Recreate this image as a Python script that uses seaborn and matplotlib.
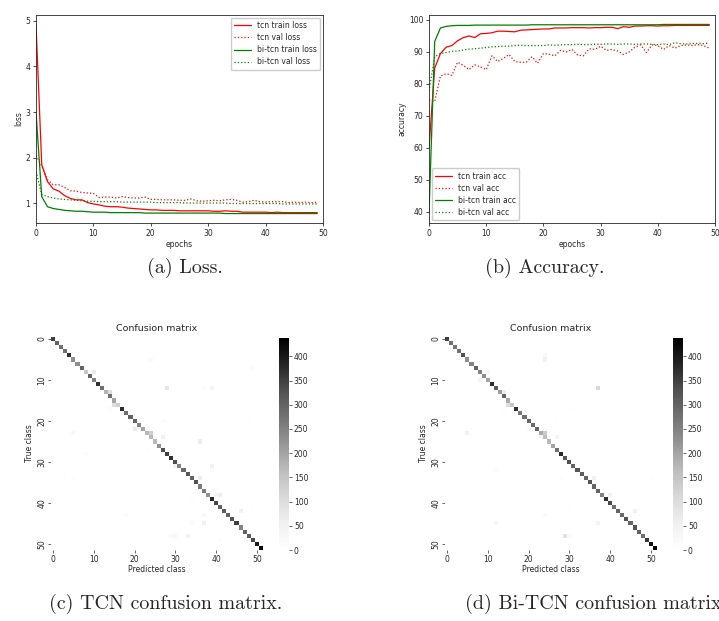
import numpy as np
import pandas as pd
import matplotlib
matplotlib.use("Agg")
import matplotlib.pyplot as plt
import seaborn as sns

sns.set_style("ticks")
plt.rcParams["font.family"] = ["DejaVu Sans"]

# ---------------- training curves ----------------
epochs = list(range(50))

tcn_train_loss = [4.92, 1.85, 1.48, 1.32, 1.27, 1.17, 1.11, 1.08, 1.08, 1.02,
                  0.99, 0.97, 0.94, 0.93, 0.93, 0.92, 0.90, 0.89, 0.88, 0.87,
                  0.86, 0.86, 0.85, 0.85, 0.85, 0.84, 0.84, 0.84, 0.84, 0.84,
                  0.84, 0.83, 0.83, 0.84, 0.83, 0.83, 0.81, 0.81, 0.81, 0.81,
                  0.81, 0.80, 0.81, 0.80, 0.80, 0.80, 0.80, 0.80, 0.80, 0.80]
tcn_val_loss = [2.05, 1.82, 1.52, 1.41, 1.41, 1.35, 1.28, 1.27, 1.24, 1.23,
                1.22, 1.13, 1.14, 1.14, 1.12, 1.15, 1.13, 1.12, 1.12, 1.14,
                1.09, 1.09, 1.08, 1.08, 1.08, 1.07, 1.07, 1.10, 1.06, 1.05,
                1.06, 1.07, 1.06, 1.08, 1.09, 1.07, 1.03, 1.04, 1.07, 1.04,
                1.03, 1.04, 1.04, 1.04, 1.02, 1.03, 1.02, 1.03, 1.02, 1.03]
bitcn_train_loss = [3.00, 1.15, 0.93, 0.89, 0.87, 0.85, 0.84, 0.83, 0.83, 0.82,
                    0.81, 0.81, 0.81, 0.80, 0.80, 0.80, 0.80, 0.80, 0.80, 0.79,
                    0.79, 0.79, 0.79, 0.79, 0.79, 0.79, 0.79, 0.79, 0.79, 0.79,
                    0.79, 0.79, 0.79, 0.78, 0.78, 0.78, 0.78, 0.78, 0.78, 0.78,
                    0.78, 0.78, 0.78, 0.78, 0.78, 0.78, 0.78, 0.78, 0.78, 0.78]
bitcn_val_loss = [1.70, 1.20, 1.15, 1.12, 1.10, 1.09, 1.08, 1.07, 1.06, 1.05,
                  1.05, 1.04, 1.04, 1.04, 1.04, 1.03, 1.03, 1.03, 1.03, 1.03,
                  1.03, 1.02, 1.02, 1.02, 1.02, 1.02, 1.01, 1.01, 1.01, 1.01,
                  1.01, 1.01, 1.01, 1.01, 1.00, 1.00, 1.00, 1.00, 1.00, 1.00,
                  1.00, 1.00, 1.00, 0.99, 0.99, 0.99, 0.99, 0.99, 0.99, 0.99]

tcn_train_acc = [60.0, 85.0, 89.5, 91.5, 92.0, 93.5, 94.5, 95.0, 94.5, 95.7,
                 95.8, 96.0, 96.5, 96.5, 96.4, 96.3, 96.8, 96.9, 97.0, 97.1,
                 97.2, 97.2, 97.5, 97.5, 97.5, 97.6, 97.6, 97.6, 97.5, 97.6,
                 97.6, 97.7, 97.7, 97.3, 97.9, 97.7, 98.1, 98.1, 98.2, 98.2,
                 98.1, 98.2, 98.2, 98.3, 98.3, 98.3, 98.3, 98.3, 98.3, 98.3]
tcn_val_acc = [75.0, 74.5, 82.5, 83.2, 82.7, 86.8, 85.8, 84.5, 86.0, 85.3,
               84.5, 88.8, 87.0, 88.0, 89.2, 87.0, 86.8, 86.8, 88.5, 86.5,
               89.5, 89.3, 88.8, 90.5, 90.0, 90.8, 89.0, 88.8, 91.0, 90.8,
               91.8, 90.5, 90.8, 90.3, 89.2, 90.0, 91.5, 92.2, 89.8, 92.2,
               92.0, 90.8, 92.0, 91.2, 92.0, 92.2, 92.0, 92.3, 92.0, 91.2]
bitcn_train_acc = [39.5, 93.3, 97.5, 98.0, 98.2, 98.3, 98.3, 98.3, 98.4, 98.4,
                   98.4, 98.4, 98.4, 98.4, 98.4, 98.4, 98.4, 98.4, 98.5, 98.5,
                   98.5, 98.5, 98.5, 98.5, 98.5, 98.5, 98.5, 98.5, 98.5, 98.5,
                   98.5, 98.5, 98.5, 98.5, 98.5, 98.5, 98.5, 98.5, 98.5, 98.5,
                   98.5, 98.6, 98.6, 98.6, 98.6, 98.6, 98.6, 98.6, 98.6, 98.6]
bitcn_val_acc = [77.8, 88.5, 89.5, 89.8, 90.2, 90.3, 90.6, 90.9, 91.0, 91.2,
                 91.4, 91.6, 91.7, 91.8, 91.8, 92.0, 92.1, 92.0, 92.0, 92.0,
                 92.0, 92.2, 92.1, 92.2, 92.3, 92.3, 92.4, 92.3, 92.3, 92.4,
                 92.4, 92.5, 92.5, 92.4, 92.5, 92.5, 92.4, 92.5, 92.5, 92.4,
                 92.3, 92.5, 92.3, 92.9, 92.6, 92.5, 92.6, 92.7, 92.6, 92.8]

# ---------------- confusion matrices (52 classes) ----------------
n_classes = 52
tcn_diag = [350, 300, 280, 280, 370, 230, 230, 300, 150, 300,
            250, 370, 280, 180, 280, 200, 130, 370, 280, 300,
            300, 250, 200, 170, 170, 170, 230, 330, 350, 370,
            330, 250, 290, 320, 300, 330, 260, 260, 230, 380,
            340, 300, 310, 300, 320, 350, 250, 300, 310, 340,
            400, 438]
# (true class, predicted class, count)
tcn_off = [(0, 11, 10), (5, 24, 20), (7, 49, 15), (8, 10, 70), (12, 28, 80),
           (12, 37, 15), (12, 39, 40), (13, 14, 100), (17, 14, 15), (16, 15, 100),
           (20, 27, 15), (20, 48, 8), (22, 20, 70), (23, 5, 25), (23, 24, 130),
           (24, 27, 50), (25, 36, 60), (27, 23, 10), (28, 8, 15), (31, 30, 40),
           (31, 39, 50), (32, 39, 15), (34, 3, 8), (34, 5, 8), (34, 36, 60),
           (38, 40, 40), (38, 41, 60), (40, 34, 8), (42, 46, 50), (41, 49, 10),
           (43, 18, 15), (43, 37, 25), (45, 34, 20), (45, 37, 50), (45, 46, 20),
           (48, 29, 25), (48, 30, 25), (48, 33, 50), (49, 41, 10)]

bitcn_diag = [350, 280, 270, 280, 330, 230, 250, 300, 250, 230,
              200, 370, 310, 210, 300, 190, 150, 370, 270, 280,
              300, 290, 300, 190, 160, 170, 200, 280, 380, 320,
              330, 300, 320, 310, 300, 320, 300, 300, 250, 370,
              340, 280, 300, 290, 330, 300, 330, 300, 280, 360,
              410, 438]
bitcn_off = [(0, 11, 10), (4, 7, 8), (4, 24, 25), (5, 24, 50), (8, 10, 30),
             (10, 8, 40), (12, 37, 110), (13, 14, 60), (16, 15, 100), (17, 14, 8),
             (17, 31, 8), (20, 27, 10), (22, 20, 25), (23, 5, 50), (23, 24, 140),
             (24, 23, 40), (24, 27, 40), (32, 12, 15), (34, 28, 8), (34, 36, 50),
             (34, 50, 10), (38, 40, 50), (41, 30, 10), (42, 46, 50), (43, 24, 20),
             (45, 12, 30), (45, 37, 40), (48, 29, 90), (48, 30, 15)]


def build_matrix(diag, off):
    m = np.zeros((n_classes, n_classes))
    m[np.arange(n_classes), np.arange(n_classes)] = diag
    for r, c, v in off:
        m[r, c] = v
    return pd.DataFrame(m)


W, H = 719, 621
fig = plt.figure(figsize=(W / 100, H / 100), dpi=100)


def frac(x0, y0, x1, y1):
    return [x0 / W, 1 - y1 / H, (x1 - x0) / W, (y1 - y0) / H]


tick_fs = 5.5
lw = 0.9

# ---- (a) loss ----
ax_a = fig.add_axes(frac(36, 15, 323, 223))
for vals, col, ls, lab in [
    (tcn_train_loss, "red", "-", "tcn train loss"),
    (tcn_val_loss, "red", ":", "tcn val loss"),
    (bitcn_train_loss, "green", "-", "bi-tcn train loss"),
    (bitcn_val_loss, "green", ":", "bi-tcn val loss"),
]:
    sns.lineplot(x=epochs, y=vals, ax=ax_a, color=col, linestyle=ls,
                 linewidth=lw, label=lab)
ax_a.set_xlim(0, 50)
ax_a.set_xlabel("epochs", fontsize=tick_fs, labelpad=2)
ax_a.set_ylabel("loss", fontsize=tick_fs, labelpad=2)
ax_a.set_yticks([1, 2, 3, 4, 5])
ax_a.tick_params(labelsize=tick_fs, length=2.5, width=0.6, pad=1.5)
ax_a.legend(loc="upper right", fontsize=tick_fs, handlelength=2.2,
            borderpad=0.45, labelspacing=0.4, borderaxespad=0.35, framealpha=1)

# ---- (b) accuracy ----
ax_b = fig.add_axes(frac(429, 15, 715, 223))
for vals, col, ls, lab in [
    (tcn_train_acc, "red", "-", "tcn train acc"),
    (tcn_val_acc, "red", ":", "tcn val acc"),
    (bitcn_train_acc, "green", "-", "bi-tcn train acc"),
    (bitcn_val_acc, "green", ":", "bi-tcn val acc"),
]:
    sns.lineplot(x=epochs, y=vals, ax=ax_b, color=col, linestyle=ls,
                 linewidth=lw, label=lab)
ax_b.set_xlim(0, 50)
ax_b.set_xlabel("epochs", fontsize=tick_fs, labelpad=2)
ax_b.set_ylabel("accuracy", fontsize=tick_fs, labelpad=2)
ax_b.tick_params(labelsize=tick_fs, length=2.5, width=0.6, pad=1.5)
ax_b.legend(loc="lower left", fontsize=tick_fs, handlelength=2.2,
            borderpad=0.45, labelspacing=0.4, borderaxespad=0.35, framealpha=1)

for ax in (ax_a, ax_b):
    for s in ax.spines.values():
        s.set_linewidth(0.6)

# ---- (c) / (d) confusion matrices ----
def draw_cm(df, hm_box, cb_box):
    ax = fig.add_axes(frac(*hm_box))
    cax = fig.add_axes(frac(*cb_box))
    sns.heatmap(df, ax=ax, cbar_ax=cax, cmap="Greys", vmin=0,
                xticklabels=10, yticklabels=10)
    ax.set_title("Confusion matrix", fontsize=6.8, pad=4)
    ax.set_xlabel("Predicted class", fontsize=tick_fs, labelpad=1)
    ax.set_ylabel("True class", fontsize=tick_fs, labelpad=2)
    ax.tick_params(labelsize=tick_fs, length=2, width=0.5, pad=1.5)
    plt.setp(ax.get_xticklabels(), rotation=0)
    plt.setp(ax.get_yticklabels(), rotation=90, va="center")
    cax.tick_params(labelsize=tick_fs, length=2, width=0.5, pad=1.5)
    cax.set_yticks(range(0, 401, 50))
    return ax


draw_cm(build_matrix(tcn_diag, tcn_off), (51, 337, 263, 550), (279, 338, 289, 550))
draw_cm(build_matrix(bitcn_diag, bitcn_off), (445, 337, 657, 550), (673, 338, 683, 550))

# ---- captions ----
cap = dict(fontsize=14.4, family="cmr10", va="center")
fig.text(185 / W, 1 - 268 / H, "(a) Loss.", ha="center", **cap)
fig.text(545 / W, 1 - 268 / H, "(b) Accuracy.", ha="center", **cap)
fig.text(166 / W, 1 - 604 / H, "(c) TCN confusion matrix.", ha="center", **cap)
fig.text(465 / W, 1 - 604 / H, "(d) Bi-TCN confusion matrix.", ha="left", **cap)

fig.savefig("out.png", dpi=100)
